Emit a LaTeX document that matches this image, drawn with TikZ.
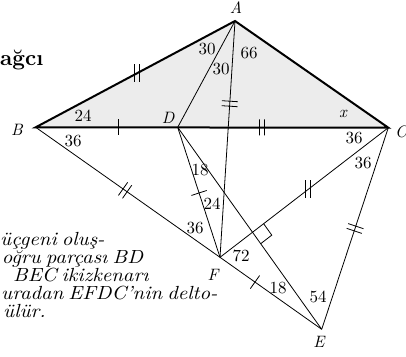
\documentclass[tikz,border=0pt]{standalone}
\usepackage{fontspec}
\setmainfont{lmroman10-regular.otf}[ItalicFont=lmroman10-italic.otf,BoldFont=lmroman10-bold.otf]
\usepackage{tikz}
\usetikzlibrary{calc,decorations.markings}
\definecolor{shadegray}{RGB}{236,236,236}

\begin{document}
\begin{tikzpicture}[x=1pt,y=-1pt,
  edge/.style={line width=0.8pt},
  side/.style={line width=2pt},
  lbl/.style={font=\fontsize{17}{19}\selectfont,inner sep=0pt},
  vtx/.style={font=\fontsize{16.5}{19}\selectfont\itshape,inner sep=0pt},
  txt/.style={font=\fontsize{19}{17.5}\selectfont\itshape\addfontfeature{FakeStretch=1.09},
    inner sep=0pt,anchor=base west},
  onetick/.style={postaction={decorate,decoration={markings,
    mark=at position #1 with {\draw[line width=0.8pt] (0,-8)--(0,8);}}}},
  twoticks/.style={postaction={decorate,decoration={markings,
    mark=at position #1 with {\draw[line width=0.8pt] (-2.5,-8)--(-2.5,8) (2.5,-8)--(2.5,8);}}}},
  vtwoticks/.style={postaction={decorate,decoration={markings,
    mark=at position #1 with {\pgftransformresetnontranslations
      \draw[line width=0.8pt] (-2.5,-9)--(-2.5,9) (2.5,-9)--(2.5,9);}}}}]
\useasboundingbox (0,0) rectangle (406,356);
% vertices
\coordinate (A) at (235,21);
\coordinate (B) at (35.7,127.3);
\coordinate (C) at (388.3,127.7);
\coordinate (D) at (177.7,127.3);
\coordinate (F) at (220,257.3);
\coordinate (E) at (321.7,329.3);
\fill[shadegray] (A)--(B)--(C)--cycle;
% inner lines
\draw[edge] (A)--(D);
\draw[edge,twoticks=0.35] (A)--(F);
\draw[edge,twoticks=0.485] (B)--(F);
\draw[edge,onetick=0.344] (F)--(E);
\draw[edge,onetick=0.505] (D)--(F);
\draw[edge] (D)--(E);
\draw[edge,vtwoticks=0.476] (C)--(F);
\draw[edge,twoticks=0.5] (C)--(E);
% triangle ABC
\draw[side] (A)--(B)--(C)--cycle;
\path[vtwoticks=0.493] (A)--(B);
\path[onetick=0.58] (B)--(D);
\path[twoticks=0.40] (D)--(C);
% right angle
\coordinate (P) at (intersection of D--E and C--F);
\coordinate (P1) at ($(P)!14pt!(C)$);
\coordinate (P2) at ($(P)!14pt!(E)$);
\draw[edge] (P1)--($(P1)+(P2)-(P)$)--(P2);
% vertex labels
\node[vtx] (lA) at (236,8) {A};
\node[vtx] (lB) at (17,130) {B};
\node[vtx] (lC) at (401,132) {C};
\node[vtx] (lD) at (168,118) {D};
\node[vtx] (lF) at (213,275) {F};
\node[vtx] (lE) at (319,342) {E};
\node[vtx] (lx) at (343,114) {x};
% angles
\foreach \i/\xx/\yy/\t in {1/83/116/24,2/73/141/36,3/207/49/30,4/221/69/30,
  5/249/53/66,6/354/138/36,7/363/163/36,8/200/170/18,9/212/204/24,
  10/195/228/36,11/241/256/72,12/278/288/18,13/318/297/54}
  \node[lbl] (ang\i) at (\xx,\yy) {\t};
% text
\node[font=\fontsize{22}{24}\selectfont\bfseries,inner sep=0pt,anchor=base west] (title) at (0,65) {ağcı};
\foreach \i/\xx/\yy/\ww/\t in {1/0/245/102/{üçgeni oluş-},2/1.7/263/141/{oğru parçası BD},
  3/13/281/131/{BEC ikizkenarı},4/1/299/216/{uradan EFDC’nin delto-},5/3/317/36/{ülür.}}
  \node[txt] (line\i) at (\xx,\yy) {\makebox[\ww pt][s]{\t}};
\end{tikzpicture}
\end{document}
